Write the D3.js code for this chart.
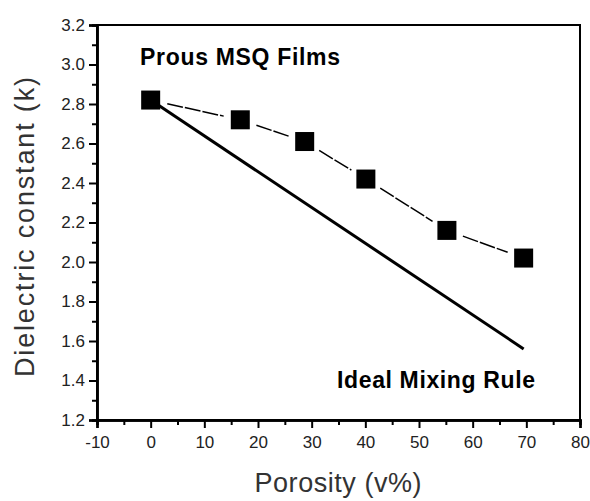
<!DOCTYPE html>
<meta charset="utf-8">
<style>
    body { margin: 0; background: #fff; }
    text { font-family: Arial, "Liberation Sans", sans-serif; }
</style>
<body>
<script src="https://d3js.org/d3.v7.min.js"></script>
<script>
    var width = 590,
        height = 501;

    // measured films
    const porosity = [0, 16.7, 28.7, 40.1, 55.2, 69.5];
    const kValues = [2.82, 2.72, 2.61, 2.42, 2.16, 2.02];

    // ideal mixing rule (end points)
    const idealPorosity = [0, 69.5];
    const idealK = [2.82, 1.56];

    const xTicks = [-10, 0, 10, 20, 30, 40, 50, 60, 70, 80];
    const yTicks = [1.2, 1.4, 1.6, 1.8, 2.0, 2.2, 2.4, 2.6, 2.8, 3.0, 3.2];

    var margin = { left: 97, top: 25, right: 10, bottom: 81 };

    var x = d3.scaleLinear().domain([-10, 80]).range([margin.left, width - margin.right]);
    var y = d3.scaleLinear().domain([1.2, 3.2]).range([height - margin.bottom, margin.top]);

    var svg = d3.select("body").append("svg")
        .attr("width", width)
        .attr("height", height);

    // frame
    svg.append("rect")
        .attr("x", x(-10)).attr("y", y(3.2))
        .attr("width", x(80) - x(-10)).attr("height", y(1.2) - y(3.2))
        .attr("fill", "none").attr("stroke", "#000").attr("stroke-width", 2);

    // minor ticks
    var xMinor = svg.append("g")
        .attr("transform", "translate(0," + y(1.2) + ")")
        .call(d3.axisBottom(x).tickValues(d3.range(-5, 80, 10)).tickSize(5).tickFormat(""));
    var yMinor = svg.append("g")
        .attr("transform", "translate(" + x(-10) + ",0)")
        .call(d3.axisLeft(y).tickValues(d3.range(1.3, 3.2, 0.2)).tickSize(5).tickFormat(""));

    var xAxis = svg.append("g")
        .attr("transform", "translate(0," + y(1.2) + ")")
        .call(d3.axisBottom(x).tickValues(xTicks).tickSize(8).tickPadding(8).tickFormat(d => String(d)));
    var yAxis = svg.append("g")
        .attr("transform", "translate(" + x(-10) + ",0)")
        .call(d3.axisLeft(y).tickValues(yTicks).tickSize(8).tickPadding(4).tickFormat(d3.format(".1f")));

    [xMinor, yMinor, xAxis, yAxis].forEach(function (g) {
        g.select(".domain").attr("stroke-width", 2.5);
        g.selectAll(".tick line").attr("stroke-width", 2);
        g.selectAll("text")
            .attr("font-family", "Arial, 'Liberation Sans', sans-serif")
            .attr("font-size", 17)
            .attr("fill", "#222");
    });

    // ideal mixing rule line
    var idealData = idealPorosity.map((p, i) => [p, idealK[i]]);
    svg.append("path")
        .datum(idealData)
        .attr("d", d3.line().x(d => x(d[0])).y(d => y(d[1])))
        .attr("fill", "none")
        .attr("stroke", "#000")
        .attr("stroke-width", 3);

    // dashed segments with gaps around markers
    var pts = porosity.map((p, i) => [x(p), y(kValues[i])]);
    var gap = 17;
    for (var i = 0; i < pts.length - 1; i++) {
        var a = pts[i], b = pts[i + 1];
        var dx = b[0] - a[0], dy = b[1] - a[1];
        var len = Math.sqrt(dx * dx + dy * dy);
        var ux = dx / len, uy = dy / len;
        svg.append("line")
            .attr("x1", a[0] + ux * gap).attr("y1", a[1] + uy * gap)
            .attr("x2", b[0] - ux * gap).attr("y2", b[1] - uy * gap)
            .attr("stroke", "#000")
            .attr("stroke-width", 1.5)
            .attr("stroke-dasharray", "16,2");
    }

    var size = 19;
    svg.selectAll("rect.pt")
        .data(porosity)
        .enter().append("rect")
        .attr("class", "pt")
        .attr("x", d => x(d) - size / 2)
        .attr("y", (d, i) => y(kValues[i]) - size / 2)
        .attr("width", size)
        .attr("height", size)
        .attr("fill", "#000");

    // labels
    svg.append("text")
        .attr("x", 140).attr("y", 65)
        .attr("font-size", 23).attr("font-weight", "bold")
        .attr("textLength", 200)
        .text("Prous MSQ Films");

    svg.append("text")
        .attr("x", 337).attr("y", 388)
        .attr("font-size", 23).attr("font-weight", "bold")
        .attr("textLength", 198)
        .text("Ideal Mixing Rule");

    svg.append("text")
        .attr("x", 338).attr("y", 492)
        .attr("text-anchor", "middle")
        .attr("font-size", 27).attr("fill", "#333")
        .attr("textLength", 167)
        .text("Porosity (v%)");

    svg.append("text")
        .attr("transform", "translate(34," + 227 + ") rotate(-90)")
        .attr("text-anchor", "middle")
        .attr("font-size", 27).attr("fill", "#333")
        .attr("textLength", 300)
        .text("Dielectric constant (k)");
</script>
</body>
